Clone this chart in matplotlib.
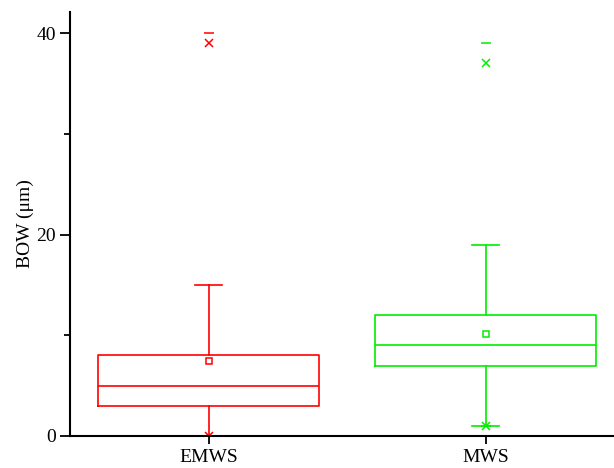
import matplotlib.pyplot as plt
from matplotlib.ticker import MultipleLocator

plt.rcParams['font.family'] = ['Liberation Serif', 'DejaVu Serif']

groups = ['EMWS', 'MWS']
colors = ['#ff0000', '#00ee00']
q1 = [3, 7]
median = [5, 9]
q3 = [8, 12]
whisk_lo = [0, 1]
whisk_hi = [15, 19]
means = [7.4, 10.1]
p1 = [0, 1]
p99 = [39, 37]
vmin = [0, 1]
vmax = [40, 39]

fig = plt.figure(figsize=(6.14, 4.68), dpi=100)
ax = fig.add_axes([70 / 614, 32 / 468, 554 / 614, 424 / 468])

positions = [1, 2]
for i, name in enumerate(groups):
    stats = [dict(med=median[i], q1=q1[i], q3=q3[i],
                  whislo=whisk_lo[i], whishi=whisk_hi[i], fliers=[], label=name)]
    c = colors[i]
    ax.bxp(stats, positions=[positions[i]], widths=0.8, capwidths=0.1,
           showfliers=False, manage_ticks=False,
           boxprops=dict(color=c, linewidth=1.2),
           medianprops=dict(color=c, linewidth=1.2),
           whiskerprops=dict(color=c, linewidth=1.2),
           capprops=dict(color=c, linewidth=1.2))
    x = positions[i]
    ax.plot([x], [means[i]], marker='s', ms=5, mfc='none', mec=c, mew=1.1)
    ax.plot([x, x], [p1[i], p99[i]], ls='none', marker='x', ms=6, color=c, mew=1.1)
    ax.plot([x, x], [vmin[i], vmax[i]], ls='none', marker='_', ms=7, color=c, mew=1.1)

ax.set_xlim(0.5, 2.5)
ax.set_ylim(0, 42.1)
ax.set_xticks(positions)
ax.set_xticklabels(groups)
ax.yaxis.set_major_locator(MultipleLocator(20))
ax.yaxis.set_minor_locator(MultipleLocator(10))
ax.tick_params(axis='both', which='major', direction='out', length=7, width=1.3,
               labelsize=14, pad=3)
ax.tick_params(axis='y', which='minor', direction='out', length=4, width=1.3)
ax.tick_params(axis='x', which='major', length=6)
ax.spines['top'].set_visible(False)
ax.spines['right'].set_visible(False)
ax.spines['left'].set_linewidth(1.5)
ax.spines['bottom'].set_linewidth(1.5)
ax.set_ylabel('BOW (\u03bcm)', fontsize=14, labelpad=2)

fig.savefig('out.png', dpi=100)
